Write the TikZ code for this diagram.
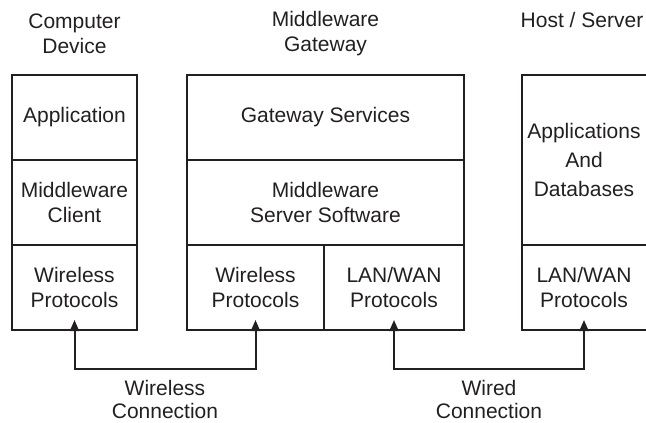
\documentclass[tikz,border=0pt]{standalone}
\usepackage{fontspec}
\setmainfont{Liberation Sans}
\usetikzlibrary{arrows.meta}
\definecolor{ink}{HTML}{231F20}
\begin{document}
\begin{tikzpicture}[x=1pt,y=-1pt,
  every node/.style={text=ink},
  txt/.style={align=center,font=\fontsize{21}{25}\selectfont,inner sep=0pt},
  cell/.style={txt,draw=ink,line width=2.2pt,minimum width=#1,minimum height=85pt,outer sep=0pt},
  opencell/.style={txt,minimum width=#1,minimum height=85pt,outer sep=0pt},
  conn/.style={draw=ink,line width=2pt,{Triangle[length=11pt,width=9pt]}-{Triangle[length=11pt,width=9pt]}}
]
\useasboundingbox (0,0) rectangle (646,423);

% titles
\node[txt] (t1) at (74.5,34) {Computer\\Device};
\node[txt] (t2) at (325.5,34) {Middleware\\Gateway};
\node[txt] (t3) at (582,20) {Host / Server};

% computer device
\node[cell=125pt] (app) at (74.5,117.5) {Application};
\node[cell=125pt] (mwc) at (74.5,202.5) {Middleware\\Client};
\node[cell=125pt] (wp1) at (74.5,287.5) {Wireless\\Protocols};

% gateway
\node[cell=277pt] (gs) at (325.5,117.5) {Gateway Services};
\node[cell=277pt] (mss) at (325.5,202.5) {Middleware\\Server Software};
\node[cell=137pt] (wp2) at (255.5,287.5) {Wireless\\Protocols};
\node[cell=140pt] (lan1) at (394,287.5) {LAN/WAN\\Protocols};

% host / server (cut at the right edge)
\node[opencell=124pt,minimum height=170pt,font=\fontsize{21}{29}\selectfont] (apd) at (584,160) {Applications\\And\\Databases};
\node[opencell=124pt] (lan2) at (584,287.5) {LAN/WAN\\Protocols};
\draw[ink,line width=2.2pt] (apd.north east) -- (apd.north west) -- (lan2.south west) -- (lan2.south east);
\draw[ink,line width=2.2pt] (apd.south west) -- (apd.south east);

% connections
\coordinate (a1) at ([yshift=10pt]wp1.south);
\coordinate (a2) at ([yshift=10pt]wp2.south);
\coordinate (a3) at ([yshift=10pt]lan1.south);
\coordinate (a4) at ([yshift=10pt]lan2.south);
\coordinate (h1) at (0,369);
\draw[conn] (a1) -- (a1 |- h1) -- (a2 |- h1) -- (a2);
\draw[conn] (a3) -- (a3 |- h1) -- (a4 |- h1) -- (a4);

\node[txt,font=\fontsize{21}{23}\selectfont] (l1) at (165,399) {Wireless\\Connection};
\node[txt,font=\fontsize{21}{23}\selectfont] (l2) at (489,399) {Wired\\Connection};
\end{tikzpicture}
\end{document}
